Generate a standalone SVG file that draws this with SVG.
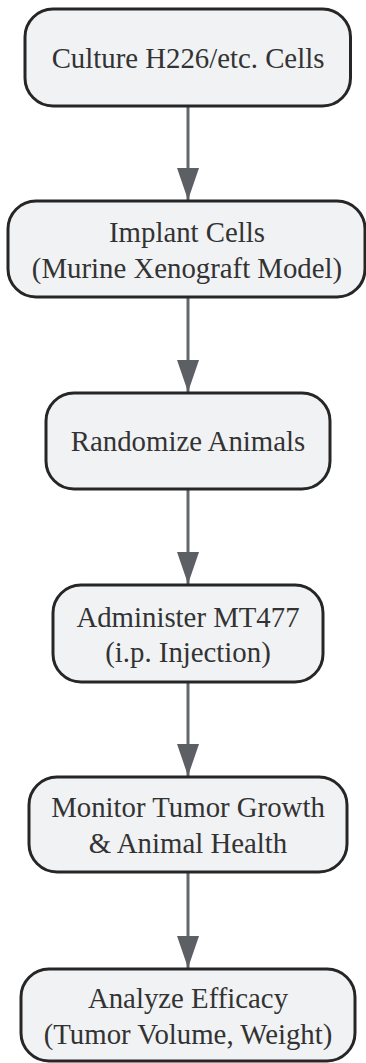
<svg xmlns="http://www.w3.org/2000/svg" width="366" height="1063" viewBox="0 0 366 1063">
<style>
.node rect { fill: #f1f2f4; stroke: #262626; stroke-width: 3; }
.node text { font-family: "Liberation Serif", "Times New Roman", serif; font-size: 28.8px; fill: #333333; text-anchor: middle; }
.edge { stroke: #64676b; stroke-width: 3; fill: none; }
</style>
<defs>
<marker id="arrow" markerUnits="userSpaceOnUse" markerWidth="32" markerHeight="22" refX="32" refY="11" orient="auto">
<path d="M0,0 L32,11 L0,22 Z" fill="#5c5f63"/>
</marker>
</defs>
<g id="connectors">
<line class="edge" x1="188" y1="106" x2="188" y2="200" marker-end="url(#arrow)"/>
<line class="edge" x1="188" y1="297" x2="188" y2="392" marker-end="url(#arrow)"/>
<line class="edge" x1="188" y1="489" x2="188" y2="584" marker-end="url(#arrow)"/>
<line class="edge" x1="188" y1="682" x2="188" y2="776" marker-end="url(#arrow)"/>
<line class="edge" x1="188" y1="872" x2="188" y2="968" marker-end="url(#arrow)"/>
</g>
<g id="node1" class="node">
<rect x="25" y="9" width="325.5" height="97" rx="28" ry="28"/>
<text x="188" y="67.5">Culture H226/etc. Cells</text>
</g>
<g id="node2" class="node">
<rect x="8" y="201" width="357" height="96" rx="28" ry="28"/>
<text x="187" y="242">Implant Cells</text>
<text x="187" y="278">(Murine Xenograft Model)</text>
</g>
<g id="node3" class="node">
<rect x="46" y="393" width="284" height="96" rx="28" ry="28"/>
<text x="188" y="450.5">Randomize Animals</text>
</g>
<g id="node4" class="node">
<rect x="53" y="585" width="270" height="97" rx="28" ry="28"/>
<text x="188" y="626.5">Administer MT477</text>
<text x="188" y="662">(i.p. Injection)</text>
</g>
<g id="node5" class="node">
<rect x="29" y="777" width="318" height="95" rx="28" ry="28"/>
<text x="188" y="817">Monitor Tumor Growth</text>
<text x="188" y="853">&amp; Animal Health</text>
</g>
<g id="node6" class="node">
<rect x="21" y="969" width="334" height="92" rx="28" ry="28"/>
<text x="188" y="1008">Analyze Efficacy</text>
<text x="188" y="1044">(Tumor Volume, Weight)</text>
</g>
</svg>
